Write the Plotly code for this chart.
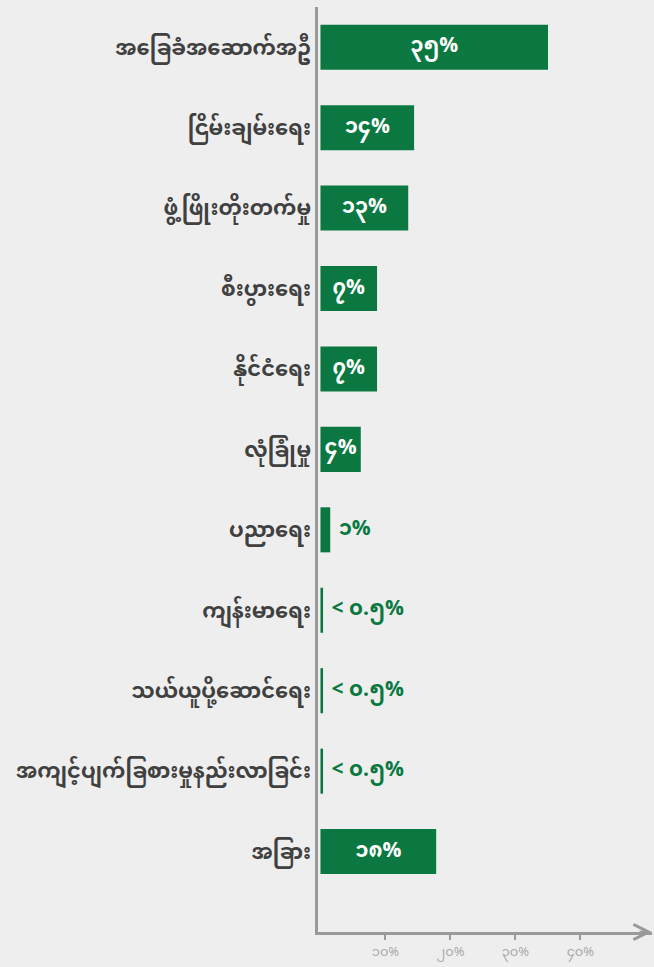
import plotly.graph_objects as go


# ==========================================================
# DATA
# ==========================================================

categories = [
    "အခြေခံအဆောက်အဦ",
    "ငြိမ်းချမ်းရေး",
    "ဖွံ့ဖြိုးတိုးတက်မှု",
    "စီးပွားရေး",
    "နိုင်ငံရေး",
    "လုံခြုံမှု",
    "ပညာရေး",
    "ကျန်းမာရေး",
    "သယ်ယူပို့ဆောင်ရေး",
    "အကျင့်ပျက်ခြစားမှုနည်းလာခြင်း",
    "အခြား",
]

# bar lengths as drawn (percent)
bar_values = [35, 14.4, 13.5, 8.7, 8.7, 6.2, 1.5, 0.4, 0.4, 0.4, 17.8]

bar_labels = [
    "၃၅%", "၁၄%", "၁၃%", "၇%", "၇%", "၄%",
    "၁%", "< ၀.၅%", "< ၀.၅%", "< ၀.၅%", "၁၈%",
]

label_inside = [True, True, True, True, True, True,
                False, False, False, False, True]

tick_values = [10, 20, 30, 40]
tick_labels = ["၁၀%", "၂၀%", "၃၀%", "၄၀%"]


# ==========================================================
# STYLE
# ==========================================================

GREEN = "#0a7840"
AXIS_GREY = "#9a9a9a"
BG = "#eeeeee"
FONT = "Noto Sans Myanmar, Padauk, Myanmar Text, Noto Sans, sans-serif"

texts = [t if inside else " " + t for t, inside in zip(bar_labels, label_inside)]
positions = ["inside" if inside else "outside" for inside in label_inside]
text_colors = ["white" if inside else GREEN for inside in label_inside]

fig = go.Figure(
    go.Bar(
        x=bar_values,
        y=categories,
        orientation="h",
        marker=dict(color=GREEN, line=dict(width=0)),
        text=texts,
        textposition=positions,
        textangle=0,
        insidetextanchor="middle",
        textfont=dict(family=FONT, size=21, color=text_colors, weight="bold"),
        constraintext="none",
        cliponaxis=False,
        hoverinfo="skip",
    )
)

fig.update_layout(
    width=654,
    height=967,
    paper_bgcolor=BG,
    plot_bgcolor=BG,
    margin=dict(l=318, r=2, t=7, b=35, autoexpand=False),
    bargap=0.44,
    showlegend=False,
    font=dict(family=FONT),
)

fig.update_xaxes(
    range=[-0.38, 51],
    showgrid=False,
    zeroline=False,
    showline=True,
    linecolor=AXIS_GREY,
    linewidth=2.5,
    tickvals=tick_values,
    ticktext=tick_labels,
    ticks="outside",
    ticklen=5,
    tickcolor=AXIS_GREY,
    tickwidth=1.5,
    ticklabelstandoff=1,
    tickfont=dict(family=FONT, size=13, color="#a8a8a8"),
    automargin=False,
)

fig.update_yaxes(
    type="category",
    categoryorder="array",
    categoryarray=categories,
    range=[11.0, -0.5],
    showgrid=False,
    zeroline=False,
    showline=True,
    linecolor=AXIS_GREY,
    linewidth=2.5,
    ticks="",
    ticklabelstandoff=0,
    tickfont=dict(family=FONT, size=21, color="#404040", weight="bold"),
    automargin=False,
)

# arrow head at the end of the x axis
fig.add_annotation(
    x=51, y=0, xref="x", yref="paper",
    ax=-14, ay=0,
    showarrow=True, arrowhead=5, arrowsize=1.2, arrowwidth=2.5,
    arrowcolor=AXIS_GREY, text="",
)

# the page body has a default 8px margin; remove it so the figure sits at 0,0
fig.write_html(
    "out.html",
    config={"displayModeBar": False},
    post_script="document.body.style.margin='0';",
)
